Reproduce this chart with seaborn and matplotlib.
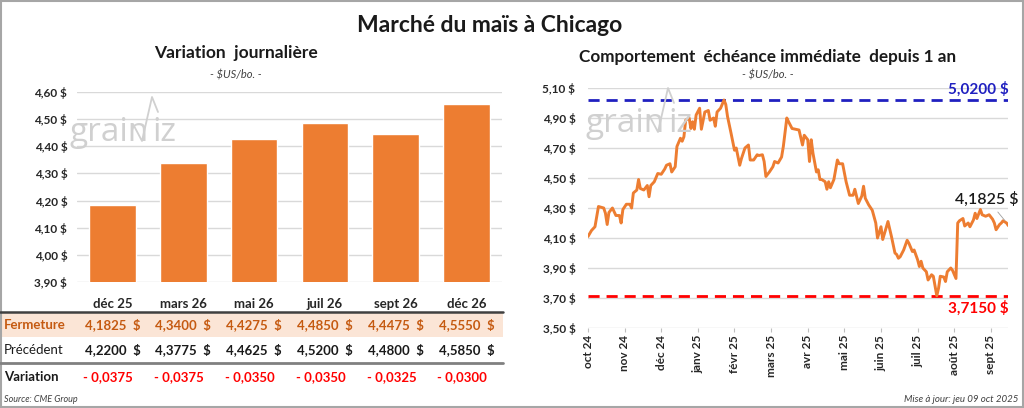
"""
Marché du maïs à Chicago
========================
Bar chart of the daily futures closes, with a small table underneath,
and the nearby contract over the last year on the right.
"""

import matplotlib
matplotlib.use("Agg")
import matplotlib.pyplot as plt
import matplotlib.transforms as mtransforms
from matplotlib.patches import Rectangle
from matplotlib.lines import Line2D
import seaborn as sns

# ---- data --------------------------------------------------------------
contrats = ["déc 25", "mars 26", "mai 26", "juil 26", "sept 26", "déc 26"]
fermeture = [4.1825, 4.3400, 4.4275, 4.4850, 4.4475, 4.5550]
precedent = [4.2200, 4.3775, 4.4625, 4.5200, 4.4800, 4.5850]

# nearby contract, trading-day index and close
jour = [0, 2, 4, 6, 9, 10, 11, 12, 14, 16,
        18, 19, 20, 22, 24, 25, 26, 28, 29, 30,
        32, 34, 35, 36, 38, 40, 42, 44, 45, 47,
        48, 50, 51, 53, 54, 55, 56, 58, 59, 60,
        61, 62, 64, 65, 67, 69, 70, 72, 73, 74,
        76, 78, 79, 80, 82, 84, 85, 87, 88, 90,
        92, 93, 95, 97, 98, 100, 101, 102, 104, 106,
        107, 109, 111, 112, 114, 115, 117, 119, 121, 123,
        124, 126, 127, 128, 129, 131, 132, 133, 134, 136,
        137, 138, 139, 141, 143, 144, 146, 148, 150, 152,
        153, 155, 157, 158, 159, 161, 163, 165, 166, 168,
        169, 172, 174, 176, 177, 178, 179, 181, 183, 184,
        186, 187, 189, 190, 191, 192, 194, 195, 197, 198,
        200, 201, 202, 204, 205, 206, 208, 209, 211, 212,
        213, 215, 216, 218, 219, 221, 222, 223, 225, 226,
        228, 230, 232, 233, 234, 236, 237, 238, 240, 241]
prix = [4.11, 4.15, 4.175, 4.31, 4.30, 4.265, 4.19, 4.27, 4.30, 4.25,
        4.25, 4.20, 4.29, 4.325, 4.325, 4.30, 4.40, 4.42, 4.49, 4.43,
        4.42, 4.45, 4.375, 4.45, 4.475, 4.53, 4.525, 4.56, 4.585, 4.595,
        4.54, 4.575, 4.71, 4.765, 4.745, 4.775, 4.885, 4.90, 4.83, 4.875,
        4.825, 4.92, 4.965, 4.825, 4.94, 4.95, 4.885, 4.90, 4.845, 4.94,
        4.965, 5.02, 4.99, 4.91, 4.80, 4.685, 4.70, 4.585, 4.63, 4.70,
        4.72, 4.62, 4.62, 4.655, 4.65, 4.655, 4.61, 4.51, 4.54, 4.575,
        4.61, 4.60, 4.64, 4.71, 4.90, 4.875, 4.83, 4.825, 4.82, 4.72,
        4.785, 4.755, 4.61, 4.755, 4.665, 4.54, 4.555, 4.49, 4.49, 4.475,
        4.425, 4.475, 4.435, 4.49, 4.62, 4.595, 4.595, 4.475, 4.385, 4.385,
        4.425, 4.33, 4.38, 4.445, 4.365, 4.32, 4.285, 4.20, 4.10, 4.175,
        4.09, 4.21, 4.11, 4.00, 3.99, 3.965, 3.975, 4.02, 4.085, 4.065,
        4.01, 4.02, 3.955, 3.91, 3.945, 3.90, 3.875, 3.82, 3.855, 3.845,
        3.715, 3.765, 3.845, 3.84, 3.81, 3.875, 3.90, 3.885, 3.83, 4.20,
        4.215, 4.23, 4.18, 4.20, 4.175, 4.22, 4.265, 4.23, 4.29, 4.255,
        4.245, 4.255, 4.225, 4.20, 4.155, 4.19, 4.20, 4.215, 4.20, 4.1825]

mois = ["oct 24", "nov 24", "déc 24", "janv 25", "févr 25", "mars 25",
        "avr 25", "mai 25", "juin 25", "juil 25", "août 25", "sept 25"]
mois_pos = [0, 21, 42, 63, 84, 105, 126, 147, 168, 189, 210, 231]

y_bar_ticks = [3.90, 4.00, 4.10, 4.20, 4.30, 4.40, 4.50, 4.60]
y_line_ticks = [3.50, 3.70, 3.90, 4.10, 4.30, 4.50, 4.70, 4.90, 5.10]

ORANGE = "#ED7D31"
BROWN = "#C55A11"
PEACH = "#FBE5D6"
GRID = "#D9D9D9"
LOGO = "#D0D0D0"

W, H = 1024, 408


def fx(px):
    return px / W


def fy(px):
    return 1 - px / H


def fr(v, nd=4):
    return f"{v:.{nd}f}".replace(".", ",")


def logo(fig, x, y):
    """Rough grainwiz watermark: text plus a check stroke."""
    fig.text(fx(x), fy(y), "grain", fontsize=24, color=LOGO, ha="left",
             va="baseline", family="Open Sans")
    xs = [x + 63, x + 72, x + 82, x + 88]
    ys = [y - 17, y, y - 44, y - 29]
    fig.add_artist(Line2D([fx(v) for v in xs], [fy(v) for v in ys],
                          color=LOGO, lw=1.3, transform=fig.transFigure))
    fig.text(fx(x + 82), fy(y), "iz", fontsize=24, color=LOGO, ha="left",
             va="baseline", family="Open Sans")


sns.set_theme(style="white")
plt.rcParams["font.family"] = ["Lato", "DejaVu Sans"]

fig = plt.figure(figsize=(W / 100, H / 100), dpi=100)
fig.patch.set_facecolor("white")

# ---- left: daily closes -------------------------------------------------
ax1 = fig.add_axes([fx(77), fy(281.7), fx(502 - 77), (281.7 - 92.3) / H])
logo(fig, 70, 141)
sns.barplot(x=contrats, y=fermeture, color=ORANGE, saturation=1,
            width=0.66, ax=ax1, zorder=3)
ax1.set_ylim(3.9, 4.6)
ax1.set_xlim(-0.5, len(contrats) - 0.5)
ax1.set_yticks(y_bar_ticks)
ax1.set_yticklabels([fr(v, 2) + " $" for v in y_bar_ticks])
ax1.grid(axis="y", color=GRID, lw=1, zorder=0)
ax1.set_axisbelow(True)
for s in ax1.spines.values():
    s.set_visible(False)
ax1.tick_params(axis="y", length=0, pad=7, labelsize=8.5, labelcolor="#262626")
ax1.tick_params(axis="x", length=0, pad=12, labelsize=9.5)
for lab in ax1.get_yticklabels() + ax1.get_xticklabels():
    lab.set_fontweight("bold")
ax1.set_xlabel("")
ax1.set_ylabel("")

# table below the bars
fig.add_artist(Rectangle((0, fy(336.7)), fx(503), (336.7 - 312.7) / H,
                         facecolor=PEACH, edgecolor="none",
                         transform=fig.transFigure, zorder=0))
fig.add_artist(Line2D([0, fx(503)], [fy(312)] * 2, color="#404040", lw=1.8,
                      transform=fig.transFigure))
fig.add_artist(Line2D([0, fx(503)], [fy(362.5)] * 2, color="#808080", lw=2,
                      transform=fig.transFigure))

trans = mtransforms.blended_transform_factory(ax1.transData, fig.transFigure)
fig.text(fx(4), fy(325), "Fermeture", color=BROWN, fontsize=9.5,
         fontweight="bold", va="center")
fig.text(fx(4), fy(350), "Précédent", color="#1a1a1a", fontsize=9.5,
         va="center")
fig.text(fx(4), fy(377), "Variation", color="#1a1a1a", fontsize=9.5,
         fontweight="bold", va="center")
for i, (f, p) in enumerate(zip(fermeture, precedent)):
    ax1.text(i, fy(325), fr(f) + "  $", transform=trans, ha="center",
             va="center", color=BROWN, fontsize=9.5, fontweight="bold")
    ax1.text(i, fy(350), fr(p) + "  $", transform=trans, ha="center",
             va="center", color="#1a1a1a", fontsize=9.5, fontweight="bold")
    var = f - p
    sign = "- " if var < 0 else "+ "
    ax1.text(i - 0.06, fy(377), sign + fr(abs(var)), transform=trans,
             ha="center", va="center", color="#FF0000", fontsize=9.5,
             fontweight="bold")

# ---- right: nearby contract over 1 year ---------------------------------
ax2 = fig.add_axes([fx(588), fy(328), fx(1008.3 - 588), 240 / H])
logo(fig, 586, 132)
sns.lineplot(x=jour, y=prix, color=ORANGE, lw=2.1, ax=ax2, zorder=3)
ax2.set_xlim(jour[0], jour[-1])
ax2.set_ylim(3.5, 5.1)
ax2.set_yticks(y_line_ticks)
ax2.set_yticklabels([fr(v, 2) + " $" for v in y_line_ticks])
ax2.set_xticks(mois_pos)
ax2.set_xticklabels(mois, rotation=90)
ax2.grid(axis="y", color=GRID, lw=1, zorder=0)
for s in ax2.spines.values():
    s.set_visible(False)
ax2.tick_params(axis="y", length=0, pad=9, labelsize=8.5, labelcolor="#262626")
ax2.tick_params(axis="x", bottom=True, length=3, width=0.8, color="#BFBFBF",
                pad=2, labelsize=8.5)
for lab in ax2.get_yticklabels() + ax2.get_xticklabels():
    lab.set_fontweight("bold")

haut, bas = max(prix), min(prix)
ax2.axhline(haut, color="#2020C0", lw=2, ls=(0, (4, 2.5)), zorder=2)
ax2.axhline(bas, color="#FF0000", lw=2, ls=(0, (4, 2.5)), zorder=2)
ax2.text(jour[-1], haut + 0.02, fr(haut) + " $", ha="right", va="bottom",
         color="#2020C0", fontsize=11, fontweight="bold")
ax2.text(jour[-1], bas - 0.08, fr(bas) + " $", ha="right", va="center",
         color="#FF0000", fontsize=11, fontweight="bold")
ax2.annotate(fr(prix[-1]) + " $", xy=(jour[-1] - 1, prix[-1] + 0.02),
             xytext=(-14, 17), textcoords="offset points", ha="center",
             va="center", fontsize=11.5, fontweight="semibold",
             color="#1a1a1a",
             arrowprops=dict(arrowstyle="-", color="#A0A0A0", lw=0.6),
             annotation_clip=False)

# ---- titles and footers -------------------------------------------------
fig.text(fx(490), fy(25), "Marché du maïs à Chicago", ha="center",
         va="center", fontsize=16.5, fontweight="bold", color="#1a1a1a")
fig.text(fx(236), fy(53), "Variation  journalière", ha="center", va="center",
         fontsize=12.5, fontweight="bold", color="#1a1a1a")
fig.text(fx(236), fy(75), "- $US/bo. -", ha="center", va="center",
         fontsize=8, style="italic", color="#404040")
fig.text(fx(768), fy(57), "Comportement  échéance immédiate  depuis 1 an",
         ha="center", va="center", fontsize=12.3, fontweight="bold",
         color="#1a1a1a")
fig.text(fx(768), fy(75), "- $US/bo. -", ha="center", va="center",
         fontsize=8, style="italic", color="#404040")
fig.text(fx(4), fy(400), "Source: CME Group", ha="left", va="center",
         fontsize=6.5, style="italic", color="#404040")
fig.text(fx(1018), fy(400), "Mise à jour: jeu 09 oct 2025", ha="right",
         va="center", fontsize=7, style="italic", color="#404040")

# outer frame
fig.add_artist(Rectangle((0.001, 0.002), 0.998, 0.996, fill=False,
                         edgecolor="#A6A6A6", lw=1.5,
                         transform=fig.transFigure))

fig.savefig("out.png", dpi=100)
